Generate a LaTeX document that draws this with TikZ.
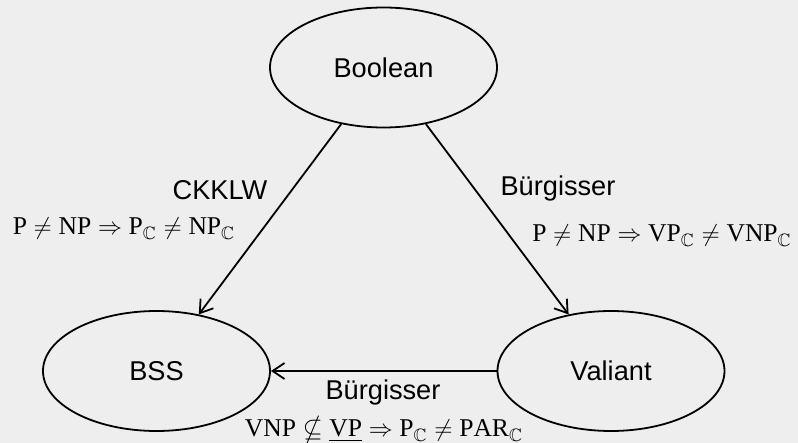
\documentclass[tikz,border=0pt]{standalone}
\usepackage{amssymb}
\usepackage{amsmath}
\usepackage{fontspec}
\setmainfont{Liberation Serif}
\setsansfont{Liberation Sans}
\usepackage{tikz}
\usetikzlibrary{positioning,arrows.meta,shapes.geometric}
\definecolor{paper}{RGB}{238,238,238}

\begin{document}
\begin{tikzpicture}[
    x=0.5pt, y=-0.5pt,
    model/.style={
        ellipse, draw=black, line width=0.9pt,
        minimum width=113.5pt, minimum height=60pt,
        inner sep=0pt,
        font=\sffamily\fontsize{13.6}{16}\selectfont
    },
    who/.style={anchor=base, inner sep=0pt, font=\sffamily\fontsize{13.6}{16}\selectfont},
    claim/.style={anchor=base, inner sep=0pt, font=\fontsize{12.8}{15}\selectfont},
    arrow/.style={-{Straight Barb[length=6pt,width=8pt]}, line width=0.9pt}
]
\fill[paper] (0,0) rectangle (798,443);
\useasboundingbox (0,0) rectangle (798,443);

\node[model] (bool) at (383.5,67.5) {Boolean};
\node[model] (bss) at (156.5,371) {BSS};
\node[model] (val) at (611,371) {Valiant};

\draw[arrow] (bool) -- (bss);
\draw[arrow] (bool) -- (val);
\draw[arrow] (val) -- (bss);

% who proved what
\node[who] (ckklw) at (220,200) {CKKLW};
\node[claim] (ckklwres) at (124,235)
    {$\mathrm{P}\neq\mathrm{NP}\Rightarrow\mathrm{P}_{\mathbb{C}}\neq\mathrm{NP}_{\mathbb{C}}$};
\node[who] (burg) at (558,196) {Bürgisser};
\node[claim] (burgres) at (662,242)
    {$\mathrm{P}\neq\mathrm{NP}\Rightarrow\mathrm{VP}_{\mathbb{C}}\neq\mathrm{VNP}_{\mathbb{C}}$};
\node[who] (burgb) at (383,400) {Bürgisser};
\node[claim] (burgbres) at (384,437)
    {$\mathrm{VNP}\nsubseteq\underline{\mathrm{VP}}\Rightarrow\mathrm{P}_{\mathbb{C}}\neq\mathrm{PAR}_{\mathbb{C}}$};

\end{tikzpicture}
\end{document}
